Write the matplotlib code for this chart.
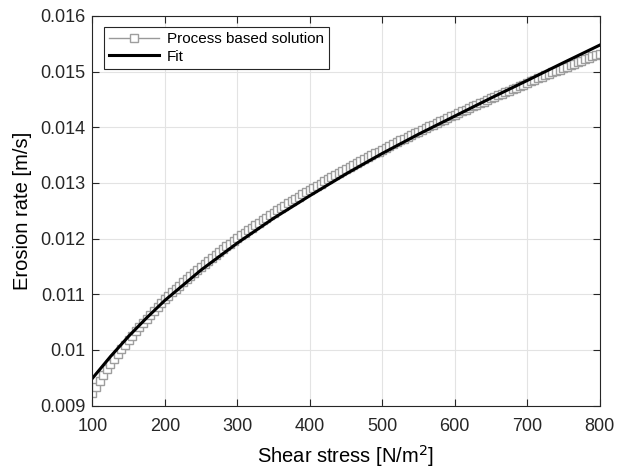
import numpy as np
import matplotlib
matplotlib.use('Agg')
import matplotlib.pyplot as plt

# Process based solution (one marker every 5 N/m2)
tau_proc = np.arange(100, 801, 5)
e_proc = np.array([
    9233, 9343, 9449, 9551, 9649, 9744, 9836, 9925, 10011, 10095,
    10177, 10257, 10335, 10411, 10486, 10560, 10632, 10703, 10773, 10841,
    10908, 10971.5, 11034, 11095.5, 11156, 11215.5, 11274, 11331.5, 11388, 11443.5,
    11498, 11552.2, 11605.7, 11658.5, 11710.6, 11762, 11812.7, 11862.7, 11912, 11960.6,
    12008.5, 12056.3, 12103.5, 12150.3, 12196.5, 12242.3, 12287.5, 12332.3, 12376.5, 12420.3,
    12463.5, 12506.3, 12548.7, 12590.7, 12632.3, 12673.5, 12714.3, 12754.7, 12794.7, 12834.3,
    12873.5, 12912.4, 12950.9, 12989.2, 13027.1, 13064.8, 13102.1, 13139.2, 13175.9, 13212.4,
    13248.5, 13284.6, 13320.5, 13356.1, 13391.5, 13426.6, 13461.5, 13496.1, 13530.5, 13564.6,
    13598.5, 13632.0, 13665.3, 13698.3, 13731.1, 13763.7, 13796.1, 13828.3, 13860.2, 13891.9,
    13923.4, 13954.7, 13985.8, 14016.7, 14047.5, 14078.1, 14108.5, 14138.7, 14168.8, 14198.7,
    14228.4, 14258.0, 14287.5, 14316.8, 14346.0, 14375.1, 14404.0, 14432.8, 14461.5, 14490.0,
    14518.4, 14546.7, 14574.9, 14603.0, 14630.9, 14658.7, 14686.4, 14714.0, 14741.5, 14768.9,
    14796.2, 14823.4, 14850.5, 14877.5, 14904.4, 14931.2, 14958.0, 14984.7, 15011.3, 15037.8,
    15064.2, 15090.5, 15116.7, 15142.9, 15169.0, 15195.0, 15221.0, 15246.9, 15272.7, 15298.5,
    15324.2,
]) * 1e-6

# Fit curve
tau_fit = [100, 125, 150, 175, 200, 250, 300, 350, 400, 450, 500, 550, 600, 650, 700, 750, 800]
e_fit = [0.009490, 0.009882, 0.010245, 0.010578, 0.010890, 0.011436, 0.011920, 0.012365,
         0.012770, 0.013162, 0.013530, 0.013875, 0.014200, 0.014525, 0.014840, 0.015160, 0.015475]

xticks = [100, 200, 300, 400, 500, 600, 700, 800]
yticks = [0.009, 0.010, 0.011, 0.012, 0.013, 0.014, 0.015, 0.016]
ytick_labels = ['0.009', '0.01', '0.011', '0.012', '0.013', '0.014', '0.015', '0.016']

plt.rcParams['font.family'] = ['Liberation Sans', 'DejaVu Sans']

fig = plt.figure(figsize=(6.2, 4.7), dpi=100)
ax = fig.add_axes([0.149, 0.137, 0.818, 0.829])

ax.plot(tau_proc, e_proc, '-s', color=(0.6, 0.6, 0.6), lw=1.0, ms=5.2,
        mfc='white', mec=(0.62, 0.62, 0.62), mew=1.0, label='Process based solution')
ax.plot(tau_fit, e_fit, '-', color='black', lw=2.2, label='Fit')

ax.set_xlim(100, 800)
ax.set_ylim(0.009, 0.016)
ax.set_xticks(xticks)
ax.set_yticks(yticks)
ax.set_yticklabels(ytick_labels)
ax.tick_params(direction='in', length=5, width=0.8, top=True, right=True,
               labelsize=13, colors='#262626')
ax.tick_params(axis='x', pad=9)
ax.tick_params(axis='y', pad=5)
ax.grid(True, color='#e3e3e3', lw=0.8)
ax.set_axisbelow(True)
for s in ax.spines.values():
    s.set_color('#262626')
    s.set_linewidth(0.8)

ax.set_xlabel('Shear stress [N/m$^2$]', fontsize=14.5, labelpad=6)
ax.set_ylabel('Erosion rate [m/s]', fontsize=14.5, labelpad=6)

leg = ax.legend(loc='upper left', bbox_to_anchor=(0.022, 0.973), fontsize=11,
                frameon=True, fancybox=False, framealpha=1, edgecolor='#262626',
                handlelength=3.3, borderpad=0.35, labelspacing=0.25,
                handletextpad=0.5, borderaxespad=0)
leg.get_frame().set_linewidth(0.8)

fig.savefig('out.png', dpi=100)
